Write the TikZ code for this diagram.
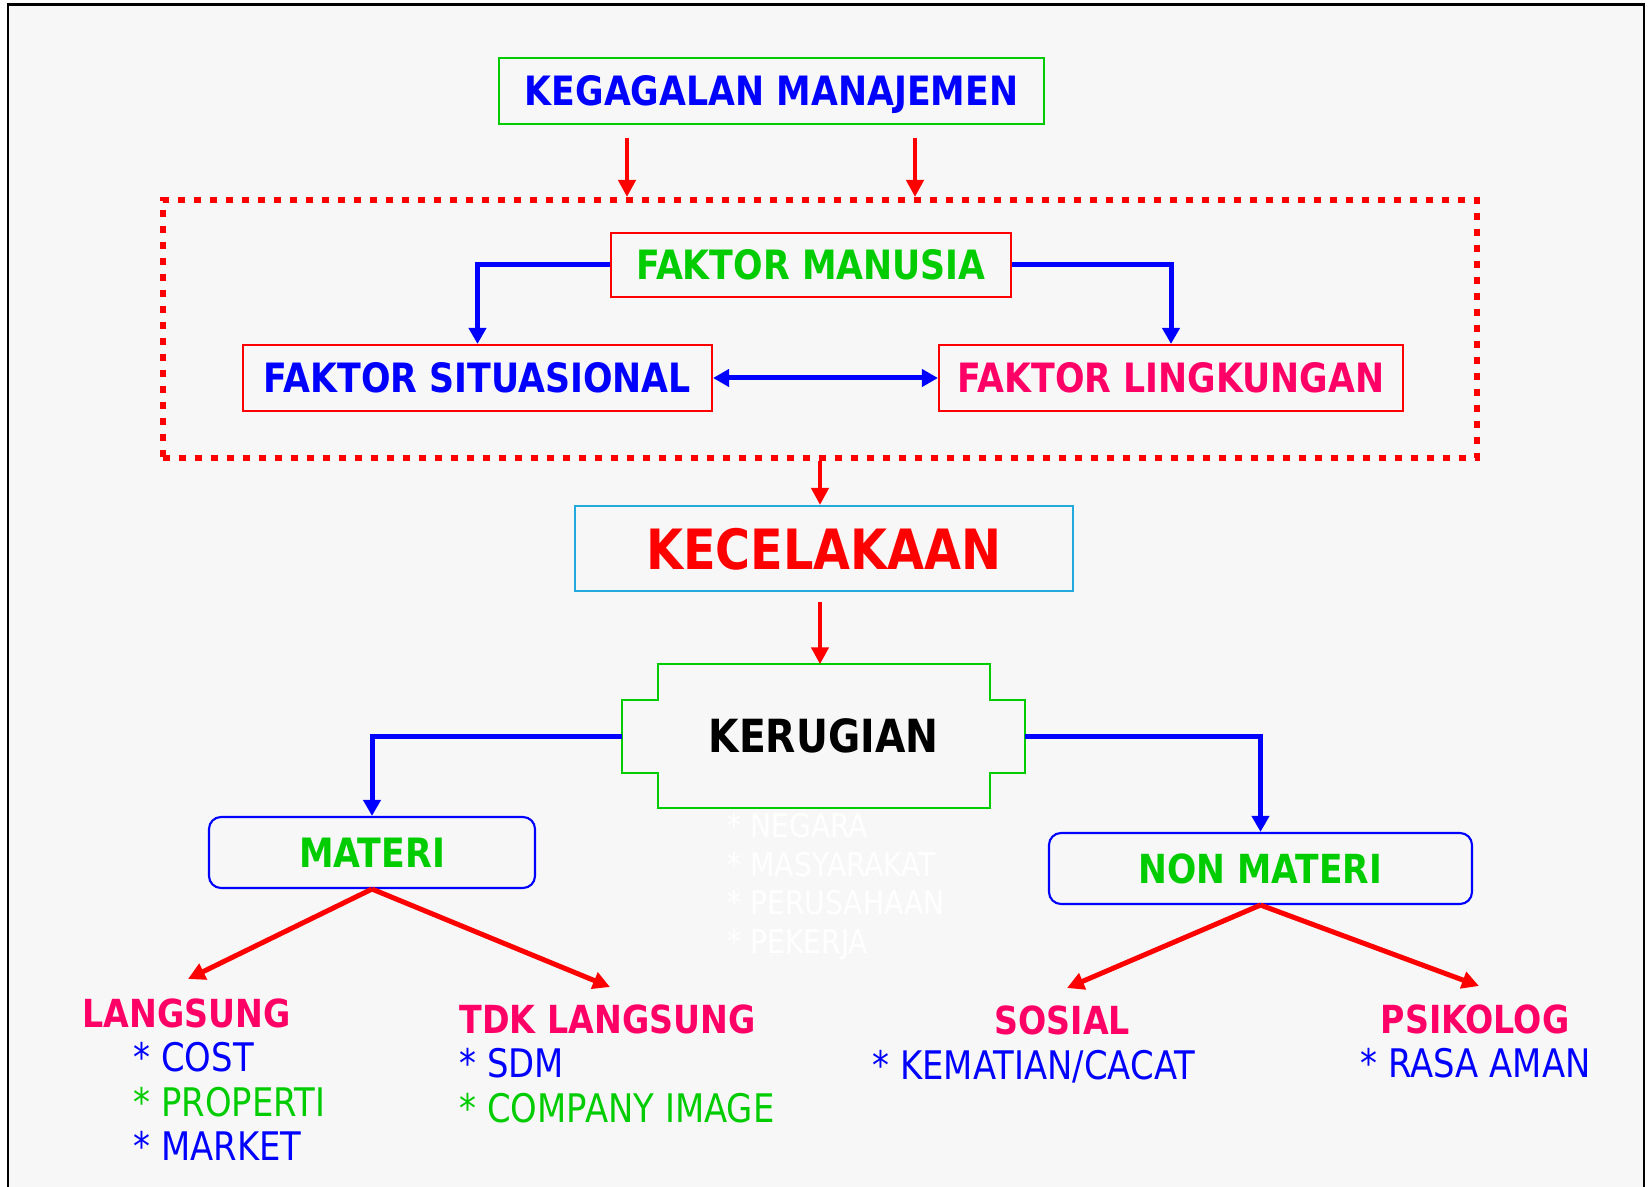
\documentclass[tikz,border=0pt]{standalone}
\usepackage{fontspec}
\setmainfont{DejaVu Sans}[FakeStretch=0.86]
\usetikzlibrary{arrows.meta,positioning}

\definecolor{bgc}{HTML}{F7F7F7}
\definecolor{kblue}{HTML}{0000FF}
\definecolor{kgreen}{HTML}{00CC00}
\definecolor{kpink}{HTML}{FF0066}
\definecolor{kred}{HTML}{FF0000}
\definecolor{kcyan}{HTML}{22AADD}

\tikzset{
  box/.style={draw, line width=0.6pt, inner sep=0pt, text depth=0pt, font=\bfseries\fontsize{11.5}{13}\selectfont},
  redarr/.style={draw=kred, line width=0.045cm, -{Triangle[length=0.17cm,width=0.17cm]}},
  bluearr/.style={draw=kblue, line width=0.05cm, -{Triangle[length=0.16cm,width=0.17cm]}},
  title/.style={anchor=base west, inner sep=0pt, text=kpink, font=\bfseries\fontsize{11}{13}\selectfont},
  item/.style={anchor=base west, inner sep=0pt, font=\fontsize{11.2}{13}\selectfont},
  hidden/.style={anchor=base west, inner sep=0pt, text=white, font=\fontsize{9.3}{11}\selectfont},
}

\begin{document}
\begin{tikzpicture}

\useasboundingbox (0,0) rectangle (16.48,-11.87);
\fill[white] (0,0) rectangle (16.48,-11.87);
\fill[bgc] (0.083,-0.045) rectangle (16.44,-11.87);
\draw[line width=0.022cm] (0.083,-11.87) |- (16.44,-0.045) -- (16.44,-11.87);

% top
\node[box, draw=kgreen, text=kblue, minimum width=5.45cm, minimum height=0.66cm]
  (kegagalan) at (7.715,-0.91) {KEGAGALAN MANAJEMEN};

% faktor
\node[draw=kred, line width=0.06cm, dash pattern=on 0.07cm off 0.09cm,
  minimum width=13.14cm, minimum height=2.58cm, inner sep=0pt] (faktor) at (8.20,-3.29) {};
\node[box, draw=kred, text=kgreen, minimum width=4.00cm, minimum height=0.64cm]
  (manusia) at (8.11,-2.65) {FAKTOR MANUSIA};
\node[box, draw=kred, text=kblue, minimum width=4.69cm, minimum height=0.66cm]
  (situasional) at (4.775,-3.78) {FAKTOR SITUASIONAL};
\node[box, draw=kred, text=kpink, minimum width=4.64cm, minimum height=0.66cm]
  (lingkungan) at (11.71,-3.78) {FAKTOR LINGKUNGAN};

\coordinate (k1) at (6.27,-1.38);
\coordinate (k2) at (9.15,-1.38);
\draw[redarr] (k1) -- (k1 |- faktor.north);
\draw[redarr] (k2) -- (k2 |- faktor.north);

\draw[bluearr] (manusia.west) -| (situasional.north);
\draw[bluearr] (manusia.east) -| (lingkungan.north);
\draw[bluearr, {Triangle[length=0.16cm,width=0.17cm]}-{Triangle[length=0.16cm,width=0.17cm]}]
  (situasional.east) -- (lingkungan.west);

% kecelakaan
\node[box, draw=kcyan, text=kred, font=\bfseries\fontsize{15.8}{18}\selectfont,
  minimum width=4.98cm, minimum height=0.85cm] (kecelakaan) at (8.24,-5.485) {KECELAKAAN};
\draw[redarr] (faktor.south) -- (faktor.south |- kecelakaan.north);

% kerugian
\node[inner sep=0pt, text depth=0pt, minimum width=4.01cm, minimum height=1.42cm,
  font=\bfseries\fontsize{13}{15}\selectfont] (kerugian) at (8.235,-7.36) {KERUGIAN};
\draw[kgreen, line width=0.6pt] ([xshift=0.36cm]kerugian.north west)
  -- ([xshift=-0.35cm]kerugian.north east) -- ++(0,-0.36) -- ++(0.35,0)
  -- ([yshift=0.35cm]kerugian.south east) -- ++(-0.35,0) -- ++(0,-0.35)
  -- ([xshift=0.36cm]kerugian.south west) -- ++(0,0.35) -- ++(-0.36,0)
  -- ([yshift=-0.36cm]kerugian.north west) -- ++(0.36,0) -- cycle;

\coordinate (k3) at (8.20,-6.02);
\draw[redarr] (k3) -- (k3 |- kerugian.north);

\node[hidden] (negara) at (7.27,-8.37) {* NEGARA};
\node[hidden] (masyarakat) at (7.27,-8.76) {* MASYARAKAT};
\node[hidden] (perusahaan) at (7.27,-9.14) {* PERUSAHAAN};
\node[hidden] (pekerja) at (7.27,-9.53) {* PEKERJA};

% materi / non materi
\node[box, draw=kblue, text=kgreen, rounded corners=0.12cm, minimum width=3.26cm,
  minimum height=0.71cm, font=\bfseries\fontsize{11.5}{13}\selectfont] (materi) at (3.72,-8.525) {MATERI};
\node[box, draw=kblue, text=kgreen, rounded corners=0.12cm, minimum width=4.23cm,
  minimum height=0.71cm, font=\bfseries\fontsize{11.4}{13}\selectfont] (nonmateri) at (12.605,-8.685) {NON MATERI};

\draw[bluearr] (kerugian.west) -| (materi.north);
\draw[bluearr] (kerugian.east) -| (nonmateri.north);

\coordinate (t1) at (1.88,-9.79);
\coordinate (t2) at (6.10,-9.87);
\coordinate (t3) at (10.67,-9.88);
\coordinate (t4) at (14.79,-9.86);
\draw[redarr, line width=0.05cm] (materi.south) -- (t1);
\draw[redarr, line width=0.05cm] (materi.south) -- (t2);
\draw[redarr, line width=0.05cm] (nonmateri.south) -- (t3);
\draw[redarr, line width=0.05cm] (nonmateri.south) -- (t4);

% lists
\node[title] (langsung) at (0.82,-10.27) {LANGSUNG};
\node[item, text=kblue] (cost) at (1.33,-10.71) {* COST};
\node[item, text=kgreen] (properti) at (1.33,-11.16) {* PROPERTI};
\node[item, text=kblue] (market) at (1.33,-11.60) {* MARKET};

\node[title] (tdk) at (4.59,-10.33) {TDK LANGSUNG};
\node[item, text=kblue] (sdm) at (4.59,-10.77) {* SDM};
\node[item, text=kgreen] (image) at (4.59,-11.22) {* COMPANY IMAGE};

\node[title] (sosial) at (9.94,-10.34) {SOSIAL};
\node[item, text=kblue] (kematian) at (8.72,-10.79) {* KEMATIAN/CACAT};

\node[title] (psikolog) at (13.80,-10.33) {PSIKOLOG};
\node[item, text=kblue] (rasa) at (13.60,-10.77) {* RASA AMAN};

\end{tikzpicture}
\end{document}
